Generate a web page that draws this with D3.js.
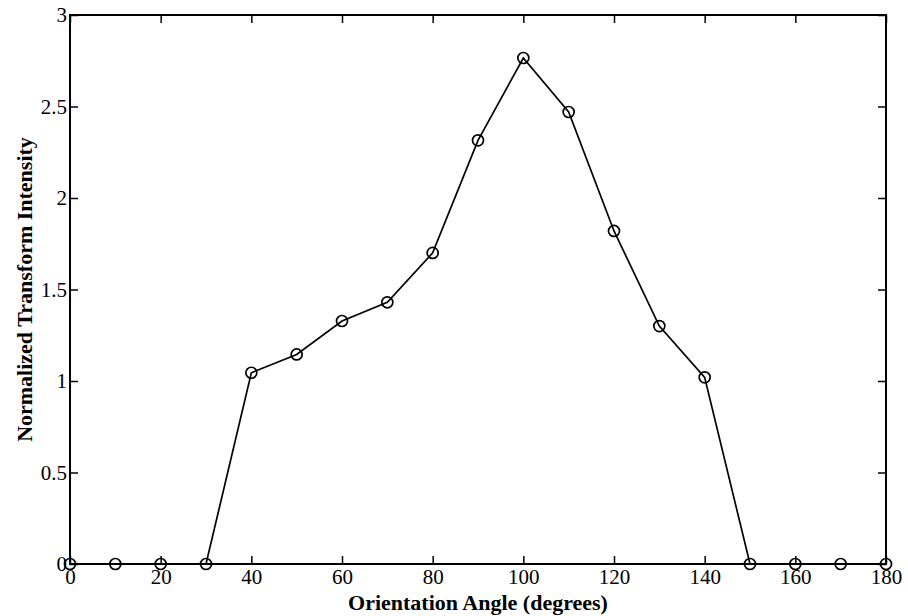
<!DOCTYPE html>
<html>
<head>
<meta charset="utf-8">
<script src="https://cdn.jsdelivr.net/npm/d3@7"></script>
<style>
  body { margin: 0; background: #fff; }
  svg { display: block; }
  text { font-family: "Liberation Serif", "Times New Roman", serif; fill: #000; }
</style>
</head>
<body>
<div id="chart"></div>
<script>
// data
const angles = [0, 10, 20, 30, 40, 50, 60, 70, 80, 90, 100, 110, 120, 130, 140, 150, 160, 170, 180];
const intensity = [0, 0, 0, 0, 1.045, 1.145, 1.328, 1.43, 1.70, 2.315, 2.765, 2.47, 1.82, 1.30, 1.02, 0, 0, 0, 0];
const xTicks = [0, 20, 40, 60, 80, 100, 120, 140, 160, 180];
const yTicks = [0, 0.5, 1, 1.5, 2, 2.5, 3];

const W = 908, H = 616;
const margin = { top: 15, right: 22, bottom: 52, left: 70 };
const width = W - margin.left - margin.right;
const height = H - margin.top - margin.bottom;

const svg = d3.select("#chart").append("svg")
    .attr("width", W)
    .attr("height", H);

const g = svg.append("g")
    .attr("transform", `translate(${margin.left},${margin.top})`);

const x = d3.scaleLinear().domain([0, 180]).range([0, width]);
const y = d3.scaleLinear().domain([0, 3]).range([height, 0]);

// inward ticks on all four sides (matlab style)
const tickLen = 8;
const fmt = d => String(d);

const axBottom = g.append("g")
    .attr("transform", `translate(0,${height})`)
    .call(d3.axisBottom(x).tickValues(xTicks).tickSize(-tickLen).tickPadding(5).tickFormat(fmt));
const axTop = g.append("g")
    .call(d3.axisTop(x).tickValues(xTicks).tickSize(-tickLen).tickFormat(""));
const axLeft = g.append("g")
    .call(d3.axisLeft(y).tickValues(yTicks).tickSize(-tickLen).tickPadding(3).tickFormat(fmt));
const axRight = g.append("g")
    .attr("transform", `translate(${width},0)`)
    .call(d3.axisRight(y).tickValues(yTicks).tickSize(-tickLen).tickFormat(""));

[axBottom, axTop, axLeft, axRight].forEach(a => {
    a.select(".domain").remove();
    a.selectAll("line").attr("stroke", "#000").attr("stroke-width", 1.5);
    a.selectAll("text").style("font-size", "21px").attr("fill", "#000");
});

// frame
g.append("rect")
    .attr("x", 0).attr("y", 0)
    .attr("width", width).attr("height", height)
    .attr("fill", "none")
    .attr("stroke", "#000")
    .attr("stroke-width", 2);

// line
const pts = angles.map((a, i) => ({ a: a, v: intensity[i] }));
g.append("path")
    .datum(pts)
    .attr("fill", "none")
    .attr("stroke", "#000")
    .attr("stroke-width", 1.7)
    .attr("d", d3.line().x(d => x(d.a)).y(d => y(d.v)));

// circle markers
g.selectAll(".dot")
    .data(pts)
    .join("circle")
    .attr("class", "dot")
    .attr("cx", d => x(d.a))
    .attr("cy", d => y(d.v))
    .attr("r", 5.5)
    .attr("fill", "none")
    .attr("stroke", "#000")
    .attr("stroke-width", 1.7);

// axis labels
svg.append("text")
    .attr("x", margin.left + width / 2)
    .attr("y", 610)
    .attr("text-anchor", "middle")
    .attr("font-size", "22px")
    .attr("font-weight", "bold")
    .text("Orientation Angle (degrees)");

svg.append("text")
    .attr("transform", `translate(32,${margin.top + height / 2}) rotate(-90)`)
    .attr("text-anchor", "middle")
    .attr("font-size", "22px")
    .attr("font-weight", "bold")
    .text("Normalized Transform Intensity");
</script>
</body>
</html>
